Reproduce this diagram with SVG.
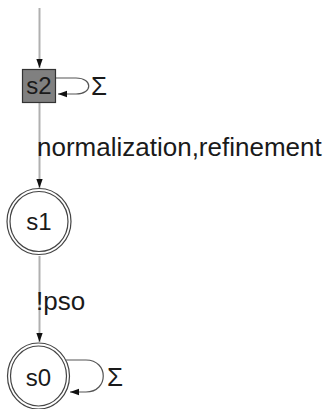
<svg xmlns="http://www.w3.org/2000/svg" width="325" height="409" viewBox="0 0 325 409">
<defs>
<style>
text{font-family:"Liberation Sans",Arial,sans-serif;fill:#1a1a1a}
.edge{stroke:#b0b0b0;stroke-width:2;fill:none}
.loop{stroke:#555;stroke-width:1.2;fill:none}
.ring{fill:#fff;stroke:#444;stroke-width:1.2}
.lbl{font-size:26px}
.nl{font-size:24px;text-anchor:middle}
</style>
<marker id="ah" viewBox="0 0 10 10" refX="10" refY="5" markerWidth="9" markerHeight="9" markerUnits="userSpaceOnUse" orient="auto">
<path d="M0,1.5 L10,5 L0,8.5 Z" fill="#111"/>
</marker>
</defs>
<rect width="325" height="409" fill="#fff"/>
<g id="connectors">
<path class="edge" d="M39.5,8 L39.5,68" marker-end="url(#ah)"/>
<path class="edge" d="M39.5,103 L39.5,188" marker-end="url(#ah)"/>
<path class="edge" d="M39.5,256 L39.5,342" marker-end="url(#ah)"/>
<path class="loop" d="M55,78 L76,78 C93,78 93,94 76,94 L58,94" marker-end="url(#ah)"/>
<path class="loop" d="M66,360 L86,360 C109,360 109,392 86,392 L70,392" marker-end="url(#ah)"/>
<text class="lbl" x="91" y="95">Σ</text>
<text class="lbl" x="107" y="386">Σ</text>
<text class="lbl" x="37" y="156">normalization,refinement</text>
<text class="lbl" x="36" y="310">!pso</text>
</g>
<g id="s2">
<rect x="22.5" y="69.5" width="33" height="33" fill="#808080" stroke="#333" stroke-width="1.2"/>
<text class="nl" x="39" y="94">s2</text>
</g>
<g id="s1">
<ellipse class="ring" cx="39" cy="221.5" rx="32" ry="33"/>
<ellipse class="ring" cx="39" cy="221.5" rx="29" ry="30"/>
<text class="nl" x="39" y="230">s1</text>
</g>
<g id="s0">
<ellipse class="ring" cx="38.5" cy="376" rx="31" ry="33"/>
<ellipse class="ring" cx="38.5" cy="376" rx="28" ry="30"/>
<text class="nl" x="38.5" y="386">s0</text>
</g>
</svg>
